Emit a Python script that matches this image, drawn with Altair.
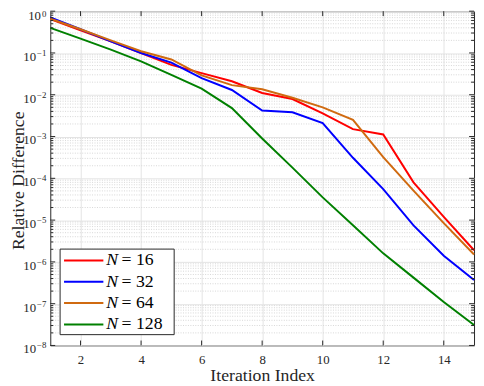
import altair as alt
import pandas as pd

iterations = list(range(1, 16))
n16 = [0.65, 0.35, 0.19, 0.10, 0.052, 0.033, 0.021, 0.011, 0.0079, 0.0036, 0.0015, 0.00112, 8e-5, 1.2e-5, 1.9e-6]
n32 = [0.71, 0.37, 0.19, 0.10, 0.059, 0.025, 0.013, 0.0042, 0.0038, 0.0021, 0.00031, 5.5e-5, 7.5e-6, 1.4e-6, 3.7e-7]
n64 = [0.66, 0.37, 0.20, 0.11, 0.070, 0.029, 0.017, 0.0135, 0.0085, 0.0050, 0.0025, 0.00032, 5.1e-5, 8.5e-6, 1.5e-6]
n128 = [0.40, 0.22, 0.12, 0.063, 0.030, 0.014, 0.0048, 9e-4, 1.8e-4, 3.5e-5, 7.5e-6, 1.6e-6, 4.2e-7, 1.1e-7, 3.1e-8]

series_names = ["16", "32", "64", "128"]
series_values = [n16, n32, n64, n128]
series_colors = ["#FF0000", "#0000FF", "#D06A10", "#008000"]

x_ticks = [2, 4, 6, 8, 10, 12, 14]
y_ticks = [1e-8, 1e-7, 1e-6, 1e-5, 1e-4, 1e-3, 1e-2, 1e-1, 1]
y_tick_exponents = ["\u22128", "\u22127", "\u22126", "\u22125", "\u22124", "\u22123", "\u22122", "\u22121", "0"]
y_minor = [m * 10.0 ** k for k in range(-8, 0) for m in range(2, 10)]

SERIF = "Liberation Serif"
INK = "#262626"
W, H = 431, 340

rows = []
for name, vals in zip(series_names, series_values):
    for it, v in zip(iterations, vals):
        rows.append({"iter": it, "value": v, "series": name})
df = pd.DataFrame(rows)

xscale = alt.Scale(domain=[1, 15], nice=False, zero=False)
yscale = alt.Scale(type="log", domain=[1e-8, 1], nice=False)
cscale = alt.Scale(domain=series_names, range=series_colors)

x_axis = alt.Axis(
    values=x_ticks, title="Iteration Index", grid=True, gridColor="#e3e3e3",
    ticks=False, domain=False, labelFont=SERIF, labelFontSize=13, labelColor=INK,
    labelPadding=8, titleFont=SERIF, titleFontSize=18, titleFontWeight="normal",
    titleColor=INK, titleY=36, titleBaseline="alphabetic")
y_axis = alt.Axis(
    values=y_ticks, labels=False, title="Relative Difference", grid=True,
    gridColor="#e3e3e3", ticks=False, domain=False, titleFont=SERIF, titleFontSize=18,
    titleFontWeight="normal", titleColor=INK, titleX=-32, titleY=H / 2 + 2,
    titleBaseline="middle")

# invisible carrier of the axes (first layer so its axes win)
axes_layer = alt.Chart(df).mark_line(strokeWidth=2, strokeOpacity=0).encode(
    x=alt.X("iter:Q", scale=xscale, axis=x_axis),
    y=alt.Y("value:Q", scale=yscale, axis=y_axis),
    color=alt.Color("series:N", scale=cscale, legend=None),
)

minor_grid = alt.Chart(pd.DataFrame({"v": y_minor})).mark_rule(
    color="#d6d6d6", strokeDash=[1, 1.5], strokeWidth=1
).encode(y=alt.Y("v:Q", scale=yscale))

lines = alt.Chart(df).mark_line(strokeWidth=2).encode(
    x=alt.X("iter:Q", scale=xscale),
    y=alt.Y("value:Q", scale=yscale),
    color=alt.Color("series:N", scale=cscale, legend=None),
)

layers = [axes_layer, minor_grid, lines]

# y tick labels: "10" with a raised exponent
lab_neg = pd.DataFrame({"v": y_ticks[:-1], "e": y_tick_exponents[:-1]})
lab_top = pd.DataFrame({"v": y_ticks[-1:], "e": y_tick_exponents[-1:]})
for data, base_x, base_dy, exp_dy in [(lab_neg, -14.5, 8, 3), (lab_top, -9.5, 9, 6)]:
    layers.append(alt.Chart(data).mark_text(
        text="10", font=SERIF, fontSize=13, align="right", baseline="alphabetic",
        dy=base_dy, color=INK).encode(y=alt.Y("v:Q", scale=yscale), x=alt.value(base_x)))
    layers.append(alt.Chart(data).mark_text(
        font=SERIF, fontSize=9, align="left", baseline="alphabetic",
        dy=exp_dy, color=INK).encode(y=alt.Y("v:Q", scale=yscale), x=alt.value(base_x + 1),
                                     text="e:N"))

ydf_major = pd.DataFrame({"v": y_ticks})
ydf_minor = pd.DataFrame({"v": y_minor})
xdf = pd.DataFrame({"v": x_ticks})
for data, ln in [(ydf_major, 5), (ydf_minor, 3)]:
    layers.append(alt.Chart(data).mark_rule(color=INK, strokeWidth=1).encode(
        y=alt.Y("v:Q", scale=yscale), x=alt.value(0), x2=alt.value(ln)))
    layers.append(alt.Chart(data).mark_rule(color=INK, strokeWidth=1).encode(
        y=alt.Y("v:Q", scale=yscale), x=alt.value(W - ln), x2=alt.value(W)))
layers.append(alt.Chart(xdf).mark_rule(color=INK, strokeWidth=1).encode(
    x=alt.X("v:Q", scale=xscale), y=alt.value(H - 5), y2=alt.value(H)))
layers.append(alt.Chart(xdf).mark_rule(color=INK, strokeWidth=1).encode(
    x=alt.X("v:Q", scale=xscale), y=alt.value(0), y2=alt.value(5)))

dummy = pd.DataFrame({"a": [0]})
layers.append(alt.Chart(dummy).mark_rect(fill="white", stroke=INK, strokeWidth=1).encode(
    x=alt.value(10), x2=alt.value(126), y=alt.value(242), y2=alt.value(329)))
for i, (name, col) in enumerate(zip(series_names, series_colors)):
    yy = 253.5 + 21.7 * i
    layers.append(alt.Chart(dummy).mark_rule(color=col, strokeWidth=2).encode(
        x=alt.value(14), x2=alt.value(54), y=alt.value(yy)))
    layers.append(alt.Chart(dummy).mark_text(
        text="N", font=SERIF, fontStyle="italic", fontSize=18, align="left",
        baseline="middle", color="black").encode(x=alt.value(57), y=alt.value(yy)))
    layers.append(alt.Chart(dummy).mark_text(
        text="= " + name, font=SERIF, fontSize=18, align="left",
        baseline="middle", color="black").encode(x=alt.value(72.5), y=alt.value(yy)))

chart = alt.layer(*layers).properties(
    width=W, height=H,
    autosize=alt.AutoSizeParams(type="none"),
    padding={"left": 43, "top": 0, "right": 2, "bottom": 38},
).configure_view(stroke=INK, strokeWidth=1)

chart.save("out.html", embed_options={"renderer": "svg", "actions": False})
